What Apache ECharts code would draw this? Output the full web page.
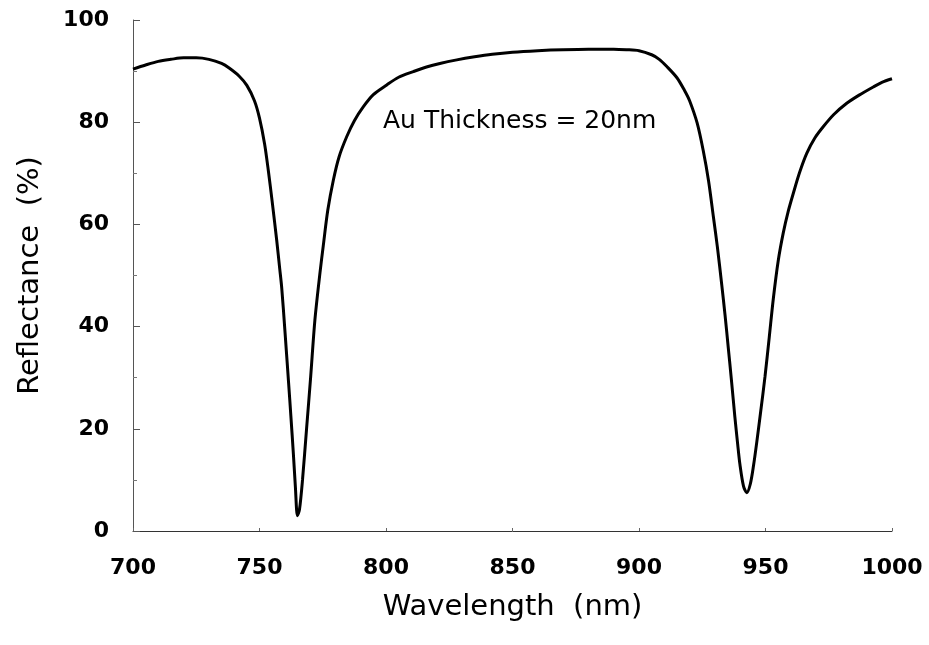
<!DOCTYPE html>
<html>
<head>
<meta charset="utf-8">
<script src="https://cdn.jsdelivr.net/npm/echarts@6/dist/echarts.min.js"></script>
<style>html,body{margin:0;padding:0;background:#fff}#c{width:929px;height:645px}</style>
</head>
<body>
<div id="c"></div>
<script>
const wavelength = [700,705,710,715,720,725,730,735,738,742,745,748,750,752,753.5,755,756.8,758,758.8,760,760.6,761.5,762.4,763.4,764.2,765,765.8,767,768.6,770.2,771.9,773.9,775.2,777,779.2,781.5,784.5,787.5,791,795,800.3,805,810.8,816,821.3,828,835,842,850,860,870,880,890,895,900,905,908,911,915,918,920,923,925.4,927.5,929.4,931,932.7,934,935.3,936.6,937.9,939,939.9,941.3,942.6,944,945.3,946.5,948,949.8,951.5,953.1,955,957,959,961,963.5,966.3,969.5,972.8,977,982.1,987,992.6,996,1000];
const reflectance = [90.4,91.2,91.9,92.3,92.6,92.6,92.3,91.5,90.6,89.0,87.2,84.2,80.8,75.8,70.5,64.5,56.9,51.3,47.5,39.5,35.3,29.0,22.5,15.0,8.5,3.0,4.2,10.0,20.0,30.0,41.3,50.5,55.8,62.8,68.7,73.3,77.2,80.3,83.0,85.4,87.3,88.8,89.9,90.8,91.5,92.2,92.8,93.3,93.7,94.0,94.2,94.3,94.3,94.2,94.0,93.2,92.3,90.9,88.7,86.2,84.2,79.8,74.4,68.5,61.5,55.5,48.2,42.3,35.8,29.2,22.3,17.0,13.0,8.8,7.5,9.2,12.9,17.2,23.0,30.2,38.0,45.5,52.8,58.3,62.6,66.1,70.2,73.9,76.9,79.1,81.5,83.7,85.3,86.9,87.8,88.5];
const xTicks = [700,750,800,850,900,950,1000];
const yTicks = [0,20,40,60,80,100];
const xTitle = 'Wavelength  (nm)';
const yTitle = 'Reflectance  (%)';
const annotation = 'Au Thickness = 20nm';

const chart = echarts.init(document.getElementById('c'), null, {renderer: 'canvas'});
const tickFont = {fontFamily: 'DejaVu Sans', fontWeight: 'bold', fontSize: 22, color: '#000'};
chart.setOption({
  animation: false,
  backgroundColor: '#fff',
  grid: {left: 133, right: 37, top: 20, bottom: 114, containLabel: false},
  xAxis: {
    type: 'value', min: xTicks[0], max: xTicks[xTicks.length-1], interval: 50,
    name: xTitle, nameLocation: 'middle', nameGap: 62,
    nameTextStyle: {fontFamily: 'DejaVu Sans', fontSize: 29, color: '#000'},
    axisLine: {show: true, lineStyle: {color: '#333', width: 1}},
    axisTick: {show: true, inside: true, length: 3, lineStyle: {color: '#666'}},
    splitLine: {show: false},
    axisLabel: Object.assign({margin: 26, formatter: v => String(v)}, tickFont)
  },
  yAxis: {
    type: 'value', min: yTicks[0], max: yTicks[yTicks.length-1], interval: 20,
    name: yTitle, nameLocation: 'middle', nameGap: 88, nameRotate: 90,
    nameTextStyle: {fontFamily: 'DejaVu Sans', fontSize: 29, color: '#000'},
    axisLine: {show: true, lineStyle: {color: '#555', width: 1}},
    axisTick: {show: true, inside: true, length: 7, lineStyle: {color: '#555'}},
    minorTick: {show: true, splitNumber: 2, length: 4, lineStyle: {color: '#777'}},
    splitLine: {show: false},
    axisLabel: Object.assign({margin: 24, formatter: v => String(v)}, tickFont)
  },
  graphic: [{
    type: 'text', left: 383, top: 109,
    style: {text: annotation, fontFamily: 'DejaVu Sans', fontSize: 25, fill: '#000'}
  }],
  series: [{
    type: 'line',
    data: wavelength.map((w, i) => [w, reflectance[i]]),
    smooth: 0.3,
    showSymbol: false,
    lineStyle: {color: '#000', width: 3}
  }]
});
</script>
</body>
</html>
